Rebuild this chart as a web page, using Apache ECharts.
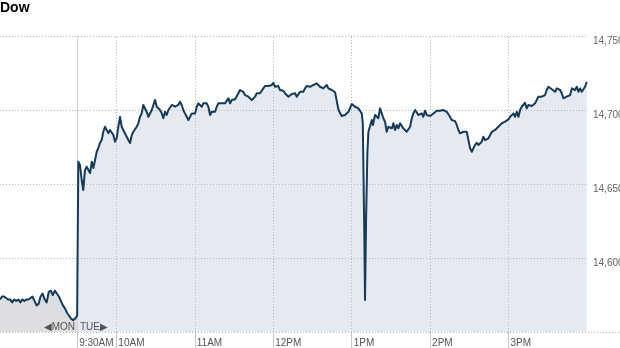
<!DOCTYPE html>
<html><head><meta charset="utf-8">
<script src="https://cdn.jsdelivr.net/npm/echarts@6/dist/echarts.min.js"></script>
<style>html,body{margin:0;padding:0;background:#fff}#c{width:620px;height:348px}</style>
</head><body><div id="c"></div>
<script>
const chartTitle = 'Dow';
// Monday session (shown compressed at the left), evenly spaced samples
const mondayValues = [14572,14574,14574,14573,14572,14572,14570,14572,14571,14572,14570,14572,14571,14572,14572,14573,14574,14571,14568,14569,14574,14576,14572,14570,14577,14578,14575,14578,14576,14574,14571,14568,14566,14563,14561,14559,14558,14559,14561];
const MONDAY_SPAN = 59; // width given to Monday, in Tuesday-minute units
// Tuesday: minutes after 9:30 AM and index level
const tueMinutes = [0,0.9,2.2,3.5,4.7,6.0,7.3,8.6,9.9,11.2,12.4,13.7,15.0,16.2,17.5,18.8,20.0,21.3,22.6,23.9,25.2,26.5,27.7,29.0,30.3,31.5,32.8,34.1,35.3,36.6,37.9,39.2,40.5,41.8,43.0,44.3,45.6,46.8,48.1,49.4,50.6,51.9,53.2,54.5,55.8,57.1,58.3,59.6,60.9,62.1,63.4,64.7,65.9,67.2,68.5,69.8,71.1,72.4,73.6,74.9,76.2,77.4,78.7,80.0,81.2,82.5,83.8,85.1,86.4,87.7,88.9,90.2,91.5,92.7,94.0,95.3,96.5,97.8,99.1,100.4,101.7,103.0,104.2,105.5,106.8,108.0,109.3,110.6,111.8,113.1,114.4,115.7,117.0,118.3,119.5,120.8,122.1,123.3,124.6,125.9,127.1,128.4,129.7,131.0,132.3,133.6,134.8,136.1,137.4,138.6,139.9,141.2,142.4,143.7,145.0,146.3,147.6,148.9,150.1,151.4,152.7,153.9,155.2,156.5,157.7,159.0,160.3,161.6,162.9,164.2,165.4,166.7,168.0,169.2,170.5,171.8,173.0,174.3,175.6,176.9,178.2,179.5,180.7,182.0,183.3,184.5,185.8,187.1,188.3,189.6,190.9,192.2,193.5,194.8,196.0,197.3,198.6,199.8,201.1,202.4,203.6,204.9,206.2,207.5,208.8,210.1,211.3,212.6,213.9,215.1,216.4,217.7,218.5,218.9,219.7,220.2,221.0,222.0,222.8,224.1,225.4,226.2,227.9,229.2,230.4,231.7,233.0,234.2,235.5,236.8,238.1,239.4,240.7,241.9,243.2,244.5,245.7,247.0,248.3,249.5,250.8,252.1,253.4,254.7,256.0,257.2,258.5,259.8,261.0,262.3,263.6,264.8,266.1,267.4,268.7,270.0,271.3,272.5,273.8,275.1,276.3,277.6,278.9,280.1,281.4,282.7,284.0,285.2,286.5,287.8,289.1,290.4,291.6,292.9,294.2,295.5,296.8,298.0,299.3,300.6,301.9,303.1,304.4,305.7,306.9,308.2,309.5,310.7,312.0,313.3,314.6,315.9,317.2,318.4,319.7,321.0,322.2,323.5,324.8,326.0,327.3,328.6,329.9,331.2,332.5,333.8,335.0,336.3,337.6,338.8,340.1,341.4,342.6,343.9,345.2,346.5,347.8,349.0,350.3,351.6,352.8,354.1,355.4,356.6,357.9,359.2,360.5,361.8,363.1,364.3,365.6,366.9,368.1,369.4,370.7,371.9,373.2,374.5,375.8,377.1,378.4,379.6,380.9,382.2,383.4,384.7,386.0,387.2,388.5,389.8];
const tueValues = [14561,14665.0,14662.8,14652.7,14645.9,14659.4,14661.7,14662.8,14657.4,14665.0,14660.8,14666.2,14671.8,14674.3,14677.7,14679.7,14685.3,14688.7,14686.5,14684.4,14686.5,14685.3,14683.1,14678.6,14681.1,14688.7,14695.4,14688.7,14686.5,14685.3,14681.9,14679.7,14677.7,14683.1,14685.3,14685.3,14688.7,14691.0,14695.4,14697.7,14703.4,14702.2,14698.8,14695.4,14696.6,14700.0,14703.4,14706.8,14702.2,14701.1,14700.0,14697.7,14694.4,14698.8,14696.6,14700.0,14701.1,14703.4,14704.5,14702.2,14701.1,14703.4,14705.6,14703.4,14700.0,14697.7,14695.4,14693.2,14695.4,14697.7,14698.8,14697.7,14702.2,14704.5,14703.4,14702.2,14704.5,14705.6,14704.5,14702.2,14696.6,14698.8,14697.7,14698.8,14702.2,14704.5,14705.6,14704.5,14705.6,14704.5,14705.6,14707.9,14704.5,14706.7,14706.7,14707.2,14707.9,14711.3,14713.5,14714.6,14712.3,14710.1,14709.4,14709.0,14707.9,14706.7,14705.6,14709.0,14711.3,14711.7,14711.3,14712.3,14714.6,14716.2,14715.7,14716.2,14715.7,14716.9,14718.4,14715.7,14716.9,14716.2,14713.5,14712.3,14713.0,14711.3,14710.1,14709.0,14707.9,14710.8,14710.1,14711.3,14709.0,14710.1,14712.3,14713.0,14712.3,14714.6,14716.2,14716.9,14715.7,14716.9,14716.9,14717.5,14718.0,14716.9,14715.7,14714.6,14714.6,14715.7,14716.9,14714.6,14714.3,14713.5,14714.0,14712.0,14706.0,14700.5,14698.0,14695.9,14695.4,14696.6,14697.7,14698.8,14698.8,14704.0,14703.4,14702.2,14701.8,14701.1,14700.0,14697.7,14691.2,14666.2,14614.4,14571.6,14625.6,14670.9,14685.3,14686.5,14693.2,14689.9,14696.6,14695.4,14694.4,14701.1,14697.7,14694.4,14692.1,14685.3,14688.7,14689.9,14687.6,14691.0,14686.5,14689.9,14687.6,14691.0,14691.4,14687.6,14686.5,14685.3,14686.5,14688.7,14694.4,14697.7,14700.0,14698.8,14696.6,14696.6,14697.7,14695.4,14699.5,14696.6,14697.3,14695.9,14696.6,14697.7,14698.8,14699.5,14698.8,14699.5,14698.8,14700.0,14699.5,14698.8,14697.7,14695.4,14693.2,14693.2,14692.5,14689.9,14686.5,14684.2,14683.1,14685.3,14686.5,14685.3,14679.7,14674.1,14671.8,14674.1,14676.4,14677.9,14676.4,14677.5,14678.6,14681.9,14679.7,14678.6,14680.9,14683.1,14685.3,14685.3,14686.5,14687.6,14688.7,14689.9,14691.0,14691.4,14692.1,14692.8,14693.7,14695.4,14694.4,14697.7,14695.4,14698.8,14695.4,14700.0,14702.2,14703.4,14704.9,14701.1,14703.4,14702.2,14702.7,14703.4,14704.5,14705.6,14709.0,14707.9,14709.0,14710.1,14710.1,14713.5,14715.7,14714.6,14714.0,14713.5,14712.3,14714.6,14715.7,14713.5,14711.3,14707.9,14707.9,14709.0,14707.9,14710.1,14714.6,14715.7,14713.5,14715.7,14712.3,14714.6,14712.3,14711.3,14715.7,14719.0];
const xTickMinutes = [0,30,90,150,210,270,330];
const xTickLabels = ['9:30AM','10AM','11AM','12PM','1PM','2PM','3PM'];
const yTicks = [14600,14650,14700,14750];
const yMin = 14550, yMax = 14750, yStep = 50;

const LINE = '#173a56';
const mondayData = mondayValues.map((v,i)=>[-MONDAY_SPAN + i*MONDAY_SPAN/(mondayValues.length-1), v]);
const tueData = tueMinutes.map((m,i)=>[m, tueValues[i]]);
const lineData = mondayData.concat(tueData.slice(1));

const dotted = {color:'#b8b8b8', type:[1,2], width:1};
const markData = xTickMinutes.map((m,i)=>({xAxis:m, lineStyle: i===0 ? {color:'#cdd4de', type:'solid', width:1} : dotted}))
  .concat(yTicks.map(v=>({yAxis:v, lineStyle: dotted})));

const chart = echarts.init(document.getElementById('c'), null, {renderer:'canvas'});
chart.setOption({
  animation:false,
  title:{text:chartTitle, left:0, top:1, padding:0, textStyle:{fontFamily:'Arial', fontWeight:'bold', fontSize:14, color:'#000'}},
  grid:{left:0, right:33, top:36, bottom:16, containLabel:false, outerBoundsMode:'none'},
  xAxis:{type:'value', min:-MONDAY_SPAN, max:390,
    axisLine:{show:false}, splitLine:{show:false},
    axisTick:{show:true, customValues:xTickMinutes, length:16, lineStyle:{color:'#c8c8c8'}},
    axisLabel:{customValues:xTickMinutes, formatter:v=>xTickLabels[xTickMinutes.indexOf(v)] || '',
      align:'left', padding:[0,0,0,2], margin:6, color:'#555', fontSize:10, fontFamily:'Arial'}},
  yAxis:{type:'value', position:'right', min:yMin, max:yMax, interval:yStep,
    axisLine:{show:false}, axisTick:{show:false}, splitLine:{show:false},
    axisLabel:{formatter:v=> v===yMin ? '' : v.toLocaleString('en-US'), color:'#666', fontSize:10, fontFamily:'Arial',
      align:'left', verticalAlign:'top', margin:6}},
  series:[
    {type:'line', data:mondayData, showSymbol:false, silent:true, z:1,
      lineStyle:{width:0, opacity:0}, areaStyle:{color:'#dcdee1', opacity:1, origin:'start'}},
    {type:'line', data:tueData, showSymbol:false, silent:true, z:1,
      lineStyle:{width:0, opacity:0}, areaStyle:{color:'#e5eaf2', opacity:1, origin:'start'},
      markLine:{silent:true, z:2, symbol:'none', label:{show:false}, emphasis:{disabled:true}, animation:false, data:markData}},
    {type:'line', data:lineData, showSymbol:false, silent:true, z:3,
      lineStyle:{width:2, color:LINE, join:'round'}}
  ],
  graphic:[
    {type:'line', z:50, silent:true, shape:{x1:0, y1:332.5, x2:620, y2:332.5}, style:{stroke:'#b8b8b8', lineWidth:1, lineDash:[1,2]}},
    {type:'text', z:50, silent:true, x:75, y:327, style:{text:'\u25C0MON', align:'right', verticalAlign:'middle', fill:'#555', font:'10px Arial'}},
    {type:'text', z:50, silent:true, x:80, y:327, style:{text:'TUE\u25B6', align:'left', verticalAlign:'middle', fill:'#555', font:'10px Arial'}}
  ]
});
</script></body></html>
